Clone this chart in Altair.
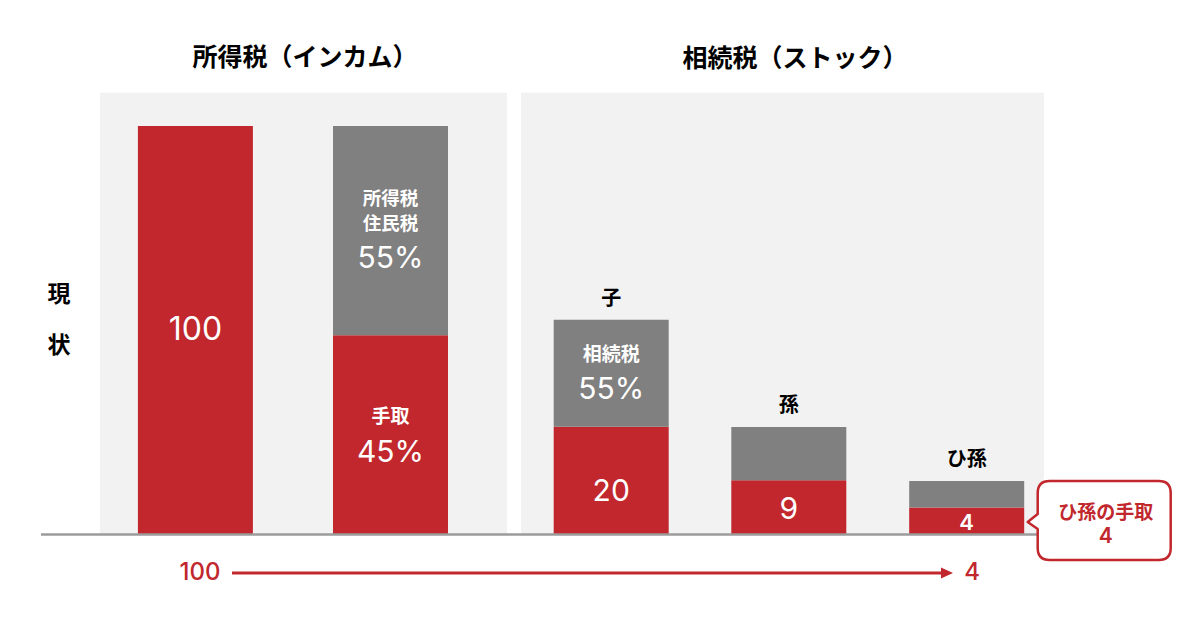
import altair as alt
import pandas as pd

# ---- data ----
bar_keys = ["現状", "手取", "子", "孫", "ひ孫"]
red_vals = [100, 48.8, 26.4, 13.3, 6.6]     # red (take-home) segment heights
gray_vals = [0, 51.2, 26.2, 13.0, 6.5]      # gray (tax) segment heights
red_texts = ["100", "45%", "20", "9", "4"]
gray_texts = ["", "55%", "55%", "", ""]
top_texts = ["", "", "子", "孫", "ひ孫"]
panel_titles = ["所得税（インカム）", "相続税（ストック）"]
row_title = ["現", "状"]
red_sub = "手取"
gray_sub_income = ["所得税", "住民税"]
gray_sub_stock = "相続税"
flow_texts = ["100", "4"]
callout_lines = ["ひ孫の手取", "4"]

RED = "#c1272d"
GRAY = "#808080"
PANEL = "#f2f2f2"
BASE = "#9b9b9b"
FONT = "Noto Sans CJK JP"
NUM_FONT = "Inter"

idxs = list(range(len(bar_keys)))
xs = alt.Scale(domain=idxs, range=[187.4, 382.5, 603.2, 780.8, 958.7],
               nice=False, zero=False, padding=0)
ys = alt.Scale(domain=[0, 100], range=[526.5, 118], nice=False, zero=False, padding=0)

seg_rows = []
for i, k in enumerate(bar_keys):
    seg_rows.append({"idx": i, "key": k, "kind": "red", "y0": 0, "y1": red_vals[i]})
    if gray_vals[i] > 0:
        seg_rows.append({"idx": i, "key": k, "kind": "gray", "y0": red_vals[i],
                         "y1": red_vals[i] + gray_vals[i]})
segs = pd.DataFrame(seg_rows)

one = pd.DataFrame({"a": [0]})


def panel(x1, x2):
    return alt.Chart(one).mark_rect(color=PANEL).encode(
        x=alt.value(x1), x2=alt.value(x2), y=alt.value(84.7), y2=alt.value(526.5))


def label(idx, yval, text, size, dy=0, dx=0, color="white", weight="bold", font=FONT):
    df = pd.DataFrame({"idx": [idx], "ty": [yval], "t": [text]})
    return alt.Chart(df).mark_text(
        font=font, fontSize=size, fontWeight=weight, color=color, dy=dy, dx=dx,
        baseline="middle", align="center").encode(
        x=alt.X("idx:Q", scale=xs, axis=None),
        y=alt.Y("ty:Q", scale=ys, axis=None),
        text="t:N")


def fixed_text(text, x, y, size, color="black", weight="bold", font=FONT):
    df = pd.DataFrame({"t": [text]})
    return alt.Chart(df).mark_text(
        font=font, fontSize=size, fontWeight=weight, color=color,
        baseline="middle", align="center").encode(
        x=alt.value(x), y=alt.value(y), text="t:N")


bars = alt.Chart(segs).mark_bar(size=115).encode(
    x=alt.X("idx:Q", scale=xs, axis=None),
    y=alt.Y("y0:Q", scale=ys, axis=None),
    y2="y1:Q",
    color=alt.Color("kind:N", scale=alt.Scale(domain=["red", "gray"], range=[RED, GRAY]), legend=None),
)

baseline = alt.Chart(one).mark_rule(color=BASE, strokeWidth=2.5).encode(
    x=alt.value(33), x2=alt.value(1036), y=alt.value(526.5))

layers = [panel(92, 499), panel(513, 1036), bars, baseline]

# titles
layers.append(fixed_text(panel_titles[0], 297, 50, 25))
layers.append(fixed_text(panel_titles[1], 787, 51, 25))
layers.append(fixed_text(row_title[0], 51, 287, 23))
layers.append(fixed_text(row_title[1], 51, 338, 23))

# labels inside bars
mid_red = [v / 2 for v in red_vals]
mid_gray = [red_vals[i] + gray_vals[i] / 2 for i in idxs]
tops = [red_vals[i] + gray_vals[i] for i in idxs]

layers.append(label(0, mid_red[0], red_texts[0], 32, weight="normal", font=NUM_FONT))
layers.append(label(1, mid_red[1], red_sub, 19, dy=-18))
layers.append(label(1, mid_red[1], red_texts[1], 30, dy=18, weight="normal", font=NUM_FONT))
layers.append(label(1, mid_gray[1], gray_sub_income[0], 18.5, dy=-32))
layers.append(label(1, mid_gray[1], gray_sub_income[1], 18.5, dy=-7))
layers.append(label(1, mid_gray[1], gray_texts[1], 30, dy=28.5, weight="normal", font=NUM_FONT))
layers.append(label(2, mid_gray[2], gray_sub_stock, 19, dy=-18))
layers.append(label(2, mid_gray[2], gray_texts[2], 30, dy=17, weight="normal", font=NUM_FONT))
layers.append(label(2, mid_red[2], red_texts[2], 30, dy=11, weight="normal", font=NUM_FONT))
layers.append(label(3, mid_red[3], red_texts[3], 30, dy=3, weight="normal", font=NUM_FONT))
layers.append(label(4, mid_red[4], red_texts[4], 22, dy=2, weight=600, font=NUM_FONT))
for i in (2, 3, 4):
    layers.append(label(i, tops[i], top_texts[i], 20, dy=-21, color="black"))

# flow arrow
layers.append(fixed_text(flow_texts[0], 192, 565, 24, color=RED, weight=500, font=NUM_FONT))
layers.append(fixed_text(flow_texts[1], 964, 565, 24, color=RED, weight=500, font=NUM_FONT))
layers.append(alt.Chart(one).mark_rule(color=RED, strokeWidth=3).encode(
    x=alt.value(224), x2=alt.value(936), y=alt.value(565)))
layers.append(alt.Chart(one).mark_point(
    shape="M -12 -5.5 L 0 0 L -12 5.5 Z", size=4, filled=True, fill=RED,
    strokeWidth=0, opacity=1).encode(x=alt.value(945), y=alt.value(565)))

# callout anchored at the last bar's red segment
CALLOUT = ("M 83 -40 L 192 -40 Q 204 -40 204 -28 L 204 27 Q 204 39 192 39 "
           "L 83 39 Q 71 39 71 27 L 71 8 L 61 1 L 71 -7 L 71 -28 Q 71 -40 83 -40 Z")
cdf = pd.DataFrame({"idx": [4], "ty": [mid_red[4]]})
layers.append(alt.Chart(cdf).mark_point(
    shape=CALLOUT, size=4, filled=True, fill="white", stroke=RED,
    strokeWidth=2.5, opacity=1, strokeJoin="round").encode(
    x=alt.X("idx:Q", scale=xs, axis=None), y=alt.Y("ty:Q", scale=ys, axis=None)))
layers.append(label(4, mid_red[4], callout_lines[0], 19, dx=139, dy=-8, color=RED))
layers.append(label(4, mid_red[4], callout_lines[1], 21, dx=139, dy=16, color=RED,
                    weight=600, font=NUM_FONT))

chart = alt.layer(*layers).properties(
    width=1184, height=614, padding=0, autosize="none", background="white"
).configure_view(stroke=None)

chart.save("out.html", embed_options={"renderer": "svg", "actions": False})
